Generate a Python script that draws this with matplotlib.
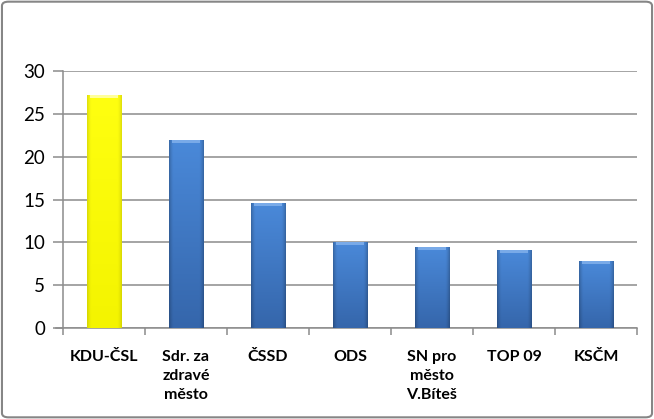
import matplotlib
matplotlib.use("Agg")
import matplotlib.pyplot as plt
import numpy as np
from matplotlib.patches import FancyBboxPatch
from matplotlib.colors import to_rgb

categories = ["KDU-ČSL", "Sdr. za\nzdravé\nměsto", "ČSSD", "ODS",
              "SN pro\nměsto\nV.Bíteš", "TOP 09", "KSČM"]
values = [27.2, 21.9, 14.55, 10.0, 9.4, 9.07, 7.8]
yticks = [0, 5, 10, 15, 20, 25, 30]

plt.rcParams['font.family'] = ['Lato', 'DejaVu Sans']

fig = plt.figure(figsize=(6.54, 4.19), dpi=100)
ax = fig.add_axes([63/654, 1-328/419, (637-63)/654, (328-71)/419])

x = np.arange(len(categories))
bars = ax.bar(x, values, width=0.42, color=["#FFFF00"] + ["#3C7BCB"]*6,
              zorder=3, linewidth=0)


def bar_image(top, bottom, edge_dark, n=80, m=40):
    t = np.linspace(0, 1, n)[:, None]           # 0 = top row
    top = np.array(to_rgb(top)); bottom = np.array(to_rgb(bottom))
    base = top[None, None, :] * (1 - t[..., None]) + bottom[None, None, :] * t[..., None]
    u = np.linspace(-1, 1, m)[None, :]
    f = 1 - edge_dark * np.clip((np.abs(u) - 0.75) / 0.25, 0, 1) ** 1.5
    img = base * f[..., None]
    return np.clip(img, 0, 1)


for i, b in enumerate(bars):
    if i == 0:
        img = bar_image("#FFFF10", "#F4F400", 0.12)
        hl = "#FFFF9A"
    else:
        img = bar_image("#4A89D9", "#3566AB", 0.22)
        hl = "#79AAE8"
    x0, y0 = b.get_x(), b.get_y()
    w, h = b.get_width(), b.get_height()
    im = ax.imshow(img, extent=[x0, x0 + w, y0, y0 + h],
                   aspect='auto', zorder=3.5, interpolation='bilinear')
    im.set_clip_path(b)
    ax.fill_between([x0 + w*0.1, x0 + w*0.9], y0 + h - 0.3, y0 + h,
                    color=hl, zorder=4, linewidth=0)

ax.set_xlim(-0.5, len(categories) - 0.5)
ax.set_ylim(0, 30)
ax.set_yticks(yticks)
ax.set_yticklabels([str(v) for v in yticks], fontsize=13.5, color="#000000")
ax.yaxis.grid(True, color="#8c8c8c", linewidth=1.1, zorder=0)
ax.set_axisbelow(True)

ax.set_xticks(x)
ax.set_xticklabels(categories, fontsize=11.5, fontweight='bold', color="#000000",
                   linespacing=1.45, va='top')
ax.tick_params(axis='x', length=0, pad=16)
ax.set_xticks(np.arange(-0.5, len(categories)), minor=True)
ax.tick_params(axis='x', which='minor', length=5, color="#8c8c8c", width=1.1)
ax.tick_params(axis='y', length=7, color="#8c8c8c", width=1.1, pad=6)

for s in ['top', 'right']:
    ax.spines[s].set_visible(False)
for s in ['bottom', 'left']:
    ax.spines[s].set_color("#8c8c8c")
    ax.spines[s].set_linewidth(1.1)
ax.spines['bottom'].set_bounds(-0.5 - 7/82, len(categories) - 0.5)

frame = FancyBboxPatch((0.003, 0.004), 0.994, 0.992, boxstyle="round,pad=0,rounding_size=0.01",
                       transform=fig.transFigure, fill=False, edgecolor="#868686",
                       linewidth=1.5)
fig.patches.append(frame)

fig.savefig("out.png", dpi=100)
